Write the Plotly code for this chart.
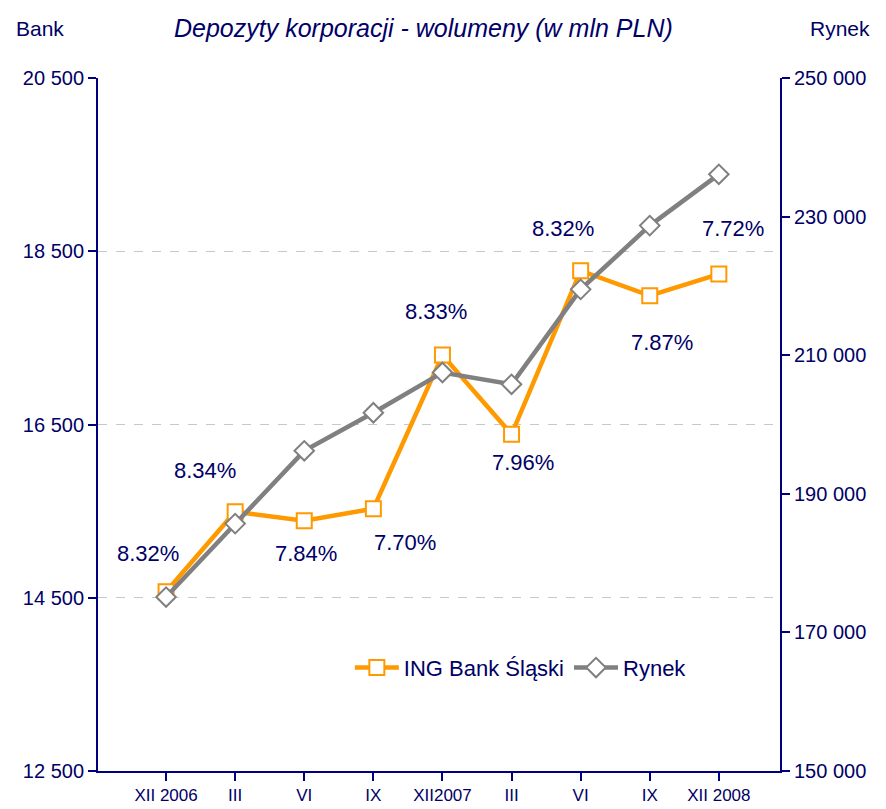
import plotly.graph_objects as go

categories = ["XII 2006", "III", "VI", "IX", "XII2007", "III", "VI", "IX", "XII 2008"]
ing_bank = [14570, 15493, 15389, 15528, 17302, 16387, 18275, 17987, 18237]
rynek = [175100, 185700, 196200, 201700, 207500, 205800, 219500, 228700, 236100]
shares = ["8.32%", "8.34%", "7.84%", "7.70%", "8.33%", "7.96%", "8.32%", "7.87%", "7.72%"]
# label anchor positions (category offset, left-axis value)
share_x = [-0.26, 0.56, 2.03, 3.46, 3.91, 5.17, 5.75, 7.18, 8.21]
share_y = [15009, 15968, 15009, 15136, 17806, 16061, 18766, 17448, 18766]

left_ticks = [12500, 14500, 16500, 18500, 20500]
right_ticks = [150000, 170000, 190000, 210000, 230000, 250000]

def fmt(v):
    return f"{v:,}".replace(",", " ")

NAVY = "#000066"
AXIS = "#000080"
xs = list(range(len(categories)))

fig = go.Figure()
fig.add_trace(go.Scatter(
    x=xs, y=ing_bank, name="ING Bank Śląski", mode="lines+markers",
    line=dict(color="#FF9900", width=4.5),
    marker=dict(symbol="square", size=15, color="white", line=dict(color="#FF9900", width=2)),
    yaxis="y", cliponaxis=False,
))
fig.add_trace(go.Scatter(
    x=xs, y=rynek, name="Rynek", mode="lines+markers",
    line=dict(color="#808080", width=4.5),
    marker=dict(symbol="diamond", size=15, color="white", line=dict(color="#808080", width=2)),
    yaxis="y2", cliponaxis=False,
))

for t, xv, yv in zip(shares, share_x, share_y):
    fig.add_annotation(x=xv, y=yv, xref="x", yref="y", text=t, showarrow=False,
                       font=dict(family="Liberation Sans, Arial", size=22, color=NAVY))

xr = [-0.985, 8.885]
fig.update_layout(
    width=886, height=809,
    margin=dict(l=98, r=106, t=78, b=38, autoexpand=False),
    paper_bgcolor="white", plot_bgcolor="white",
    font=dict(family="Liberation Sans, Arial", color=NAVY),
    showlegend=True,
    legend=dict(orientation="h", x=0.62, y=0.149, xanchor="center", yanchor="middle",
                font=dict(family="Liberation Sans, Arial", size=22, color=NAVY),
                itemwidth=44, bgcolor="rgba(0,0,0,0)"),
    xaxis=dict(range=xr, tickvals=xs, ticktext=categories, showgrid=False, zeroline=False,
               automargin=False,
               showline=True, linecolor=AXIS, linewidth=2,
               ticks="outside", ticklen=8, tickwidth=1.5, tickcolor=AXIS,
               tickfont=dict(size=17, color=NAVY)),
    xaxis2=dict(range=xr, tickvals=xs, overlaying="x", side="bottom", anchor="y",
                automargin=False,
                showticklabels=False, showgrid=False, zeroline=False,
                ticks="inside", ticklen=8, tickwidth=1.5, tickcolor=AXIS, showline=False),
    yaxis=dict(range=[12500, 20500], tickvals=left_ticks, ticktext=[fmt(v) for v in left_ticks],
               automargin=False,
               showgrid=True, gridcolor="#C8C8C8", griddash="dash", gridwidth=1,
               zeroline=False, showline=True, linecolor=AXIS, linewidth=2,
               ticks="outside", ticklen=8, tickwidth=1.5, tickcolor=AXIS,
               tickfont=dict(size=20, color=NAVY)),
    yaxis3=dict(range=[12500, 20500], tickvals=left_ticks, overlaying="y", side="left", anchor="x",
                automargin=False,
                showticklabels=False, showgrid=False, zeroline=False, showline=False,
                ticks="inside", ticklen=8, tickwidth=1.5, tickcolor=AXIS),
    yaxis2=dict(range=[150000, 250000], tickvals=right_ticks, ticktext=[fmt(v) for v in right_ticks],
                overlaying="y", side="right", anchor="x", automargin=False,
                showgrid=False, zeroline=False, showline=True, linecolor=AXIS, linewidth=2,
                ticks="outside", ticklen=8, tickwidth=1.5, tickcolor=AXIS,
                tickfont=dict(size=20, color=NAVY)),
    yaxis4=dict(range=[150000, 250000], tickvals=right_ticks, overlaying="y", side="right", anchor="x",
                automargin=False,
                showticklabels=False, showgrid=False, zeroline=False, showline=False,
                ticks="inside", ticklen=8, tickwidth=1.5, tickcolor=AXIS),
)

fig.add_annotation(xref="paper", yref="paper", x=0.477, y=1.0, yshift=50, xanchor="center", yanchor="middle",
                   text="<i>Depozyty korporacji - wolumeny (w mln PLN)</i>", showarrow=False,
                   font=dict(family="Liberation Sans, Arial", size=25, color=NAVY))
fig.add_annotation(xref="paper", yref="paper", x=0, xshift=-84, y=1.0, yshift=50, xanchor="left", yanchor="middle",
                   text="Bank", showarrow=False,
                   font=dict(family="Liberation Sans, Arial", size=21, color=NAVY))
fig.add_annotation(xref="paper", yref="paper", x=1, xshift=28, y=1.0, yshift=50, xanchor="left", yanchor="middle",
                   text="Rynek", showarrow=False,
                   font=dict(family="Liberation Sans, Arial", size=21, color=NAVY))

fig.write_html("out.html", config={"displayModeBar": False},
               post_script="document.body.style.margin='0';document.body.style.overflow='hidden';")
